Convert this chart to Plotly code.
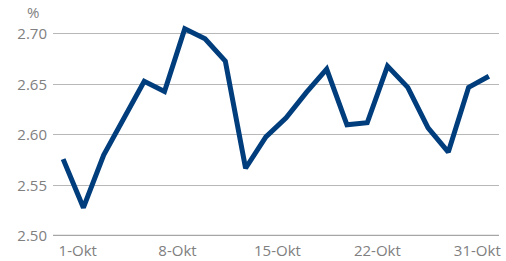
import plotly.graph_objects as go

# Data (business days in October, index positions)
values = [2.576, 2.528, 2.580, 2.616, 2.653, 2.643, 2.705, 2.695, 2.673, 2.567,
          2.598, 2.617, 2.642, 2.665, 2.610, 2.612, 2.668, 2.647, 2.607, 2.583,
          2.647, 2.658]
x_index = list(range(len(values)))
tick_labels = ["1-Okt", "8-Okt", "15-Okt", "22-Okt", "31-Okt"]
tick_positions = [0.72, 5.64, 10.57, 15.5, 20.43]
y_ticks = [2.50, 2.55, 2.60, 2.65, 2.70]

fig = go.Figure()
fig.add_trace(go.Scatter(
    x=x_index, y=values, mode="lines",
    line=dict(color="#003d7c", width=5, shape="linear"),
    hoverinfo="skip", showlegend=False,
))

font_family = "Open Sans, Noto Sans, sans-serif"
label_color = "#808080"
fig.update_layout(
    width=506, height=261,
    margin=dict(l=53, r=7, t=10, b=25),
    paper_bgcolor="white", plot_bgcolor="white",
    font=dict(family=font_family, size=15, color=label_color),
    xaxis=dict(
        range=[-0.5, len(values) - 0.5],
        tickmode="array", tickvals=tick_positions, ticktext=tick_labels,
        showgrid=False, zeroline=False, showline=False, ticks="",
        ticklabelstandoff=4, automargin=False,
        tickfont=dict(size=15, color=label_color),
        fixedrange=True,
    ),
    yaxis=dict(
        range=[2.50, 2.7235],
        tickmode="array", tickvals=y_ticks,
        ticktext=[f"{v:.2f}" for v in y_ticks],
        showgrid=True, gridcolor="#b8b8b8", gridwidth=1,
        zeroline=False, showline=False, ticks="",
        ticklabelstandoff=5, automargin=False,
        tickfont=dict(size=15, color=label_color),
        fixedrange=True,
    ),
    shapes=[dict(type="line", xref="paper", yref="y", x0=0, x1=1, y0=2.50, y1=2.50,
                 line=dict(color="#a6a6a6", width=2.5), layer="above")],
    annotations=[dict(text="%", xref="paper", yref="paper", x=-0.045, y=0.989,
                      xanchor="center", yanchor="middle", showarrow=False,
                      font=dict(size=15, color=label_color))],
)

fig.write_html("out.html", config={"displayModeBar": False, "staticPlot": True},
               post_script="document.body.style.margin='0';document.body.style.overflow='hidden';")
